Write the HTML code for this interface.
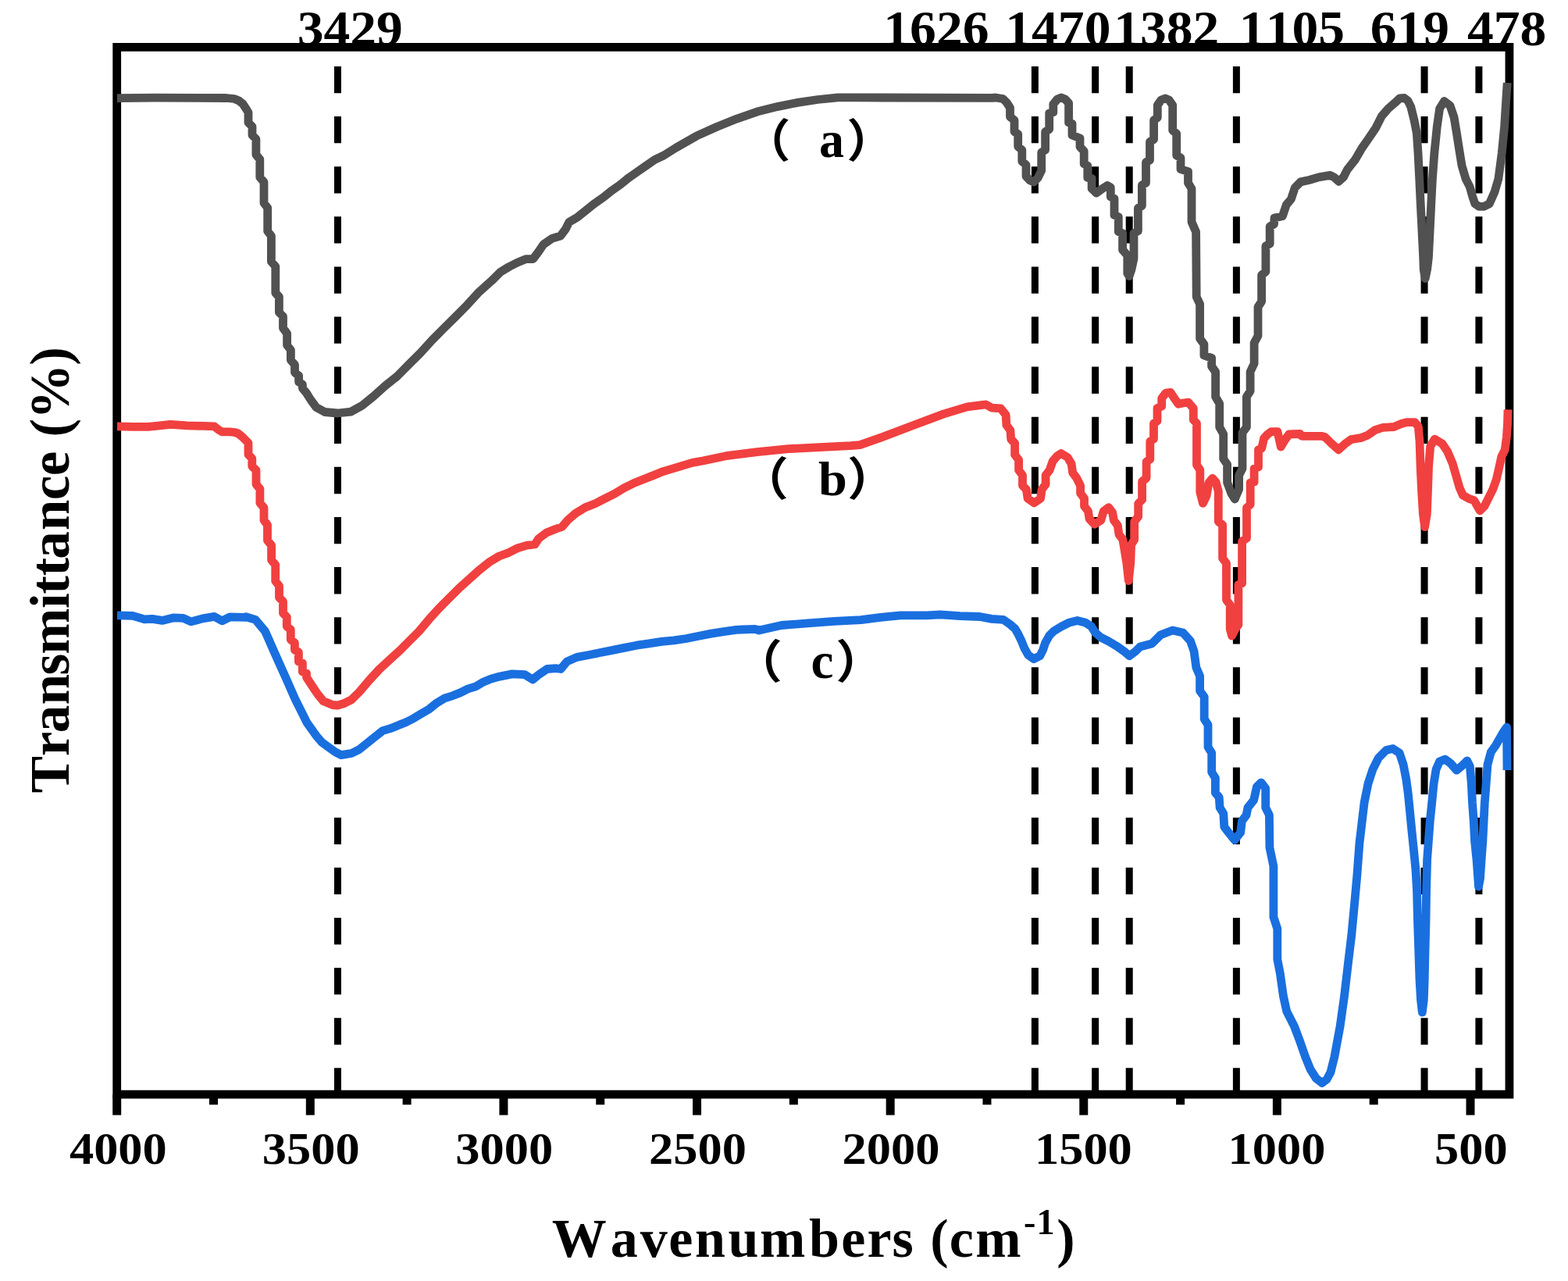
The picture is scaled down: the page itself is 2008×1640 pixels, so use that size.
<!DOCTYPE html>
<html><head><meta charset="utf-8"><title>FTIR spectra</title>
<style>html,body{margin:0;padding:0;background:#fff;width:2008px;height:1640px;overflow:hidden}svg{display:block}</style>
</head><body>
<svg xmlns="http://www.w3.org/2000/svg" width="2008" height="1640" viewBox="0 0 2008 1640">
<rect x="0" y="0" width="2008" height="1640" fill="#fff"/>
<text font-family="'Liberation Serif','Times New Roman',serif" font-weight="bold" font-size="64" style="font-kerning:none" transform="translate(380.65,58.40) scale(1.0560,1)">3429</text>
<text font-family="'Liberation Serif','Times New Roman',serif" font-weight="bold" font-size="64" style="font-kerning:none" transform="translate(1131.33,58.40) scale(1.0560,1)">1626</text>
<text font-family="'Liberation Serif','Times New Roman',serif" font-weight="bold" font-size="64" style="font-kerning:none" transform="translate(1287.31,58.40) scale(1.0560,1)">1470</text>
<text font-family="'Liberation Serif','Times New Roman',serif" font-weight="bold" font-size="64" style="font-kerning:none" transform="translate(1426.23,58.40) scale(1.0560,1)">1382</text>
<text font-family="'Liberation Serif','Times New Roman',serif" font-weight="bold" font-size="64" style="font-kerning:none" transform="translate(1586.85,58.40) scale(1.0560,1)">1105</text>
<text font-family="'Liberation Serif','Times New Roman',serif" font-weight="bold" font-size="64" style="font-kerning:none" transform="translate(1754.71,58.40) scale(1.0560,1)">619</text>
<text font-family="'Liberation Serif','Times New Roman',serif" font-weight="bold" font-size="64" style="font-kerning:none" transform="translate(1879.04,58.40) scale(1.0560,1)">478</text>
<rect x="149.7" y="60.4" width="1783.25" height="1340.70" fill="none" stroke="#000" stroke-width="10.8"/>
<line x1="432.48" y1="84.9" x2="432.48" y2="1398" stroke="#000" stroke-width="9" stroke-dasharray="34.3 29.82"/>
<line x1="1325.38" y1="84.9" x2="1325.38" y2="1398" stroke="#000" stroke-width="9" stroke-dasharray="34.3 29.82"/>
<line x1="1402.63" y1="84.9" x2="1402.63" y2="1398" stroke="#000" stroke-width="9" stroke-dasharray="34.3 29.82"/>
<line x1="1446.21" y1="84.9" x2="1446.21" y2="1398" stroke="#000" stroke-width="9" stroke-dasharray="34.3 29.82"/>
<line x1="1583.39" y1="84.9" x2="1583.39" y2="1398" stroke="#000" stroke-width="9" stroke-dasharray="34.3 29.82"/>
<line x1="1824.07" y1="84.9" x2="1824.07" y2="1398" stroke="#000" stroke-width="9" stroke-dasharray="34.3 29.82"/>
<line x1="1893.90" y1="84.9" x2="1893.90" y2="1398" stroke="#000" stroke-width="9" stroke-dasharray="34.3 29.82"/>
<polyline points="150.00,125.60 200.00,125.20 290.00,125.50 300.00,126.50 306.00,129.00 311.00,133.00 315.00,139.00 318.00,144.00 318.00,157.00 323.00,162.00 323.00,173.00 327.90,178.00 327.90,198.00 332.80,204.00 332.80,227.00 338.00,233.00 338.00,260.00 342.70,266.00 342.70,296.00 347.40,302.00 347.40,335.00 352.80,341.00 352.80,375.00 357.40,380.00 357.40,400.00 362.50,405.00 362.50,420.00 367.60,427.00 367.60,442.00 372.40,448.00 372.40,461.00 377.50,467.00 377.50,477.00 382.60,481.00 382.60,489.00 387.40,492.00 387.40,497.00 392.60,503.40 398.00,512.00 405.00,521.50 416.00,527.50 432.00,529.00 449.60,527.10 463.20,519.60 478.20,507.50 493.20,494.00 508.30,482.00 523.30,466.90 538.40,451.90 553.40,435.40 568.40,420.30 583.50,405.30 598.50,390.20 613.60,373.70 628.60,360.20 630.00,359.10 641.00,348.10 652.00,341.50 662.90,336.00 673.90,331.60 682.70,331.60 689.30,322.80 695.90,313.00 706.80,305.30 717.80,302.00 724.40,293.20 728.80,284.40 739.80,277.80 750.80,269.00 761.70,260.30 772.70,252.60 783.70,243.80 794.70,236.10 805.60,227.30 816.60,219.60 827.60,212.00 838.60,204.30 850.00,199.00 865.90,189.00 891.80,174.20 917.70,162.50 943.60,152.10 969.50,143.10 995.40,136.60 1021.30,131.40 1047.20,127.50 1073.10,124.90 1100.00,124.90 1132.00,125.00 1270.00,125.37 1275.00,125.00 1284.40,126.50 1289.00,131.00 1293.50,138.00 1293.50,149.50 1299.00,154.00 1299.00,168.60 1303.70,171.50 1303.70,187.60 1308.80,192.00 1308.80,206.60 1314.00,211.00 1314.00,225.70 1319.00,231.00 1323.90,233.00 1329.00,228.00 1333.70,218.30 1333.70,195.00 1338.60,192.00 1338.60,168.60 1343.70,165.60 1343.70,145.00 1348.80,143.70 1348.80,133.40 1354.00,127.00 1359.00,125.00 1364.00,127.00 1368.60,132.00 1368.60,156.90 1373.00,158.30 1373.00,173.00 1378.00,175.00 1383.00,177.00 1383.00,188.00 1388.20,193.40 1388.20,209.80 1392.80,212.20 1392.80,227.40 1398.10,228.50 1398.10,241.40 1404.00,247.00 1411.00,242.00 1418.00,237.50 1422.30,240.00 1422.30,252.00 1427.00,254.30 1427.00,275.40 1432.30,277.70 1432.30,296.50 1437.60,298.80 1437.60,319.90 1443.80,327.00 1443.80,350.00 1446.10,353.50 1449.00,345.00 1452.00,330.80 1452.00,298.60 1457.40,295.70 1457.40,266.40 1462.40,263.50 1462.40,237.00 1467.50,234.20 1467.50,207.80 1472.50,205.00 1472.50,181.50 1477.60,178.60 1477.60,153.70 1482.30,150.70 1482.30,134.60 1487.00,128.00 1492.20,126.00 1497.00,128.00 1501.70,134.60 1501.70,166.90 1506.70,171.20 1506.70,199.10 1512.00,202.00 1512.00,216.60 1521.50,219.60 1521.50,234.20 1526.00,241.50 1526.00,284.00 1531.60,297.00 1532.20,380.00 1536.60,389.40 1536.60,433.60 1541.90,440.70 1541.90,454.90 1551.60,458.40 1551.60,469.00 1556.60,476.00 1556.60,508.00 1561.70,516.70 1561.70,546.80 1566.70,555.60 1566.70,587.50 1571.60,594.50 1571.60,617.50 1577.00,632.00 1581.30,639.00 1586.60,626.40 1586.60,608.70 1591.00,599.80 1591.00,553.90 1596.40,546.80 1596.40,507.90 1601.10,500.80 1601.10,476.00 1606.10,465.50 1606.10,439.00 1611.00,430.00 1611.00,393.00 1615.60,386.00 1615.60,352.00 1620.90,348.00 1620.90,315.00 1626.20,312.00 1626.20,290.00 1631.50,287.00 1632.00,279.00 1642.40,276.80 1647.30,262.20 1653.40,254.90 1658.30,240.20 1665.60,232.90 1676.60,230.50 1688.80,226.80 1703.40,224.40 1708.30,226.80 1714.40,232.30 1720.50,226.80 1725.40,217.10 1735.10,204.90 1743.70,190.20 1752.20,178.00 1762.00,163.40 1769.30,148.80 1777.80,139.00 1786.30,131.70 1792.40,126.00 1798.40,125.50 1803.00,129.00 1806.80,136.90 1811.00,153.70 1814.30,170.40 1816.00,195.60 1817.70,229.10 1819.30,262.60 1821.00,296.10 1822.70,329.60 1823.20,345.00 1825.20,356.50 1827.60,345.00 1829.40,329.60 1831.10,296.10 1832.70,262.60 1834.40,229.10 1836.90,195.60 1840.30,162.00 1843.60,139.00 1849.50,129.50 1857.00,135.20 1862.10,150.30 1865.40,170.40 1868.80,192.20 1872.10,212.30 1877.10,229.10 1882.20,239.10 1885.50,250.90 1888.90,260.90 1893.90,264.30 1900.60,264.30 1907.30,260.90 1914.00,245.80 1918.90,229.10 1923.30,195.60 1926.60,162.00 1928.70,128.50 1930.20,106.00" fill="none" stroke="#515151" stroke-width="10.8" stroke-linejoin="round" stroke-linecap="butt"/>
<polyline points="150.00,545.90 170.00,546.40 190.00,546.40 205.00,544.90 218.00,543.40 240.00,544.90 260.00,545.40 274.50,545.90 279.40,549.90 284.40,552.90 294.40,552.90 300.40,553.50 305.00,555.00 310.00,559.00 314.00,563.00 318.00,567.00 318.00,582.00 322.80,587.00 322.80,597.00 328.00,602.00 328.00,620.00 332.90,626.00 332.90,644.00 338.00,650.00 338.00,666.00 342.50,672.00 342.50,692.00 347.60,698.00 347.60,717.00 352.70,723.00 352.70,744.00 357.50,750.00 357.50,765.00 362.50,770.00 362.50,785.00 367.30,790.00 367.30,802.00 372.30,806.00 372.30,819.00 377.40,823.00 377.40,832.00 382.40,835.00 382.40,847.00 387.40,849.00 387.40,860.00 392.50,862.00 392.50,867.00 397.00,874.00 401.60,881.00 407.00,889.00 414.00,897.50 426.00,902.50 432.50,903.00 440.00,900.80 450.00,895.80 460.00,886.00 472.80,871.00 485.60,857.00 498.40,845.20 511.20,833.60 524.00,820.80 536.80,808.00 549.60,792.70 562.40,778.60 575.20,765.80 588.00,753.00 600.80,741.50 613.60,729.90 626.50,719.70 639.30,712.00 650.00,708.20 662.50,701.90 674.90,698.20 684.90,697.00 689.80,689.50 699.80,682.00 712.30,677.00 719.70,674.50 727.20,665.80 737.20,657.10 749.60,649.60 762.10,644.70 774.50,638.40 787.00,632.20 799.40,624.70 811.90,618.50 824.30,613.50 836.80,608.60 849.20,603.60 861.70,599.80 874.10,596.10 886.60,592.40 900.00,590.00 929.80,583.70 969.70,578.70 1009.50,574.70 1049.40,572.70 1089.20,570.70 1101.20,569.70 1129.00,559.80 1168.90,544.80 1208.70,529.90 1238.60,520.90 1262.50,517.90 1270.00,522.10 1281.50,522.90 1288.10,531.20 1288.90,544.30 1293.90,550.90 1294.70,562.40 1299.60,567.40 1299.60,582.20 1304.60,588.80 1304.60,601.90 1309.50,608.50 1309.50,621.70 1314.40,626.60 1316.10,638.10 1324.30,643.90 1332.60,638.10 1334.20,626.60 1339.10,620.00 1339.10,608.50 1344.10,601.90 1348.20,590.40 1353.90,583.80 1358.90,580.50 1367.10,585.50 1372.10,593.70 1373.70,605.20 1378.60,611.80 1383.60,621.70 1383.60,631.60 1388.50,638.10 1388.50,648.00 1393.50,654.60 1395.10,664.50 1401.70,671.10 1409.90,666.10 1413.20,654.60 1419.80,649.70 1424.70,656.30 1426.40,666.10 1431.30,672.70 1433.00,684.20 1437.90,690.80 1439.50,700.70 1442.80,720.50 1445.30,743.50 1447.80,720.50 1448.60,697.40 1452.70,690.80 1452.70,667.80 1457.70,661.20 1457.70,644.70 1462.60,639.80 1462.60,616.50 1468.10,612.00 1468.10,591.00 1472.80,588.00 1472.80,565.00 1477.50,562.00 1477.50,542.00 1482.00,539.00 1482.00,522.70 1487.70,520.00 1487.70,510.00 1493.00,503.00 1499.00,502.40 1504.00,510.00 1509.00,517.30 1515.00,516.00 1521.90,515.20 1528.30,522.70 1528.30,537.60 1532.50,541.90 1532.50,595.20 1536.80,601.60 1536.80,630.00 1540.50,644.30 1545.00,635.00 1548.00,618.00 1552.80,612.30 1557.00,617.00 1560.30,629.00 1560.30,667.70 1565.60,672.00 1565.60,714.70 1570.50,721.00 1570.50,768.00 1575.20,774.40 1575.20,805.00 1577.50,814.00 1582.00,805.00 1585.90,800.00 1585.90,748.80 1590.60,746.70 1590.60,693.00 1596.50,689.00 1596.50,650.00 1601.20,646.00 1601.20,618.00 1606.10,617.00 1606.10,600.00 1611.50,598.00 1611.50,576.00 1615.70,574.00 1618.70,561.00 1623.40,556.00 1628.00,552.60 1636.00,552.60 1640.30,572.00 1645.00,564.00 1650.70,556.00 1664.90,555.50 1667.00,558.30 1692.30,558.30 1697.00,559.70 1704.60,567.30 1714.10,575.80 1723.60,567.30 1730.20,562.60 1742.50,560.70 1751.90,556.90 1761.40,550.30 1770.90,547.40 1785.10,546.50 1794.50,542.50 1801.00,540.70 1811.90,540.70 1816.30,546.20 1818.00,564.90 1819.10,597.80 1820.70,630.70 1822.40,658.10 1824.60,674.60 1827.30,658.10 1828.40,630.70 1829.50,597.80 1831.70,571.50 1837.20,562.20 1847.10,568.20 1853.60,578.00 1860.20,593.40 1864.60,608.80 1869.00,624.10 1873.40,634.00 1881.10,638.40 1887.70,640.60 1892.10,648.30 1895.30,653.80 1900.80,648.30 1906.30,637.30 1911.80,626.30 1916.20,614.20 1919.50,600.00 1922.80,584.60 1927.20,575.80 1929.40,559.40 1930.50,542.90 1931.00,524.30" fill="none" stroke="#F14040" stroke-width="10.8" stroke-linejoin="round" stroke-linecap="butt"/>
<polyline points="150.00,787.90 170.00,788.40 185.00,792.90 195.00,792.40 207.70,794.40 221.70,790.90 234.60,791.40 244.60,795.90 259.50,791.90 274.50,789.40 284.40,794.90 294.40,789.90 314.30,790.40 315.00,789.80 327.20,793.40 333.30,800.70 339.40,808.00 344.30,819.00 349.10,830.00 354.00,841.00 358.90,852.00 363.80,862.90 368.70,873.90 373.50,884.90 378.40,895.90 383.30,905.60 388.20,915.40 393.00,925.10 399.10,933.70 405.20,942.20 412.60,950.70 421.10,956.80 429.60,962.90 437.00,966.60 444.30,965.40 450.00,964.50 459.90,959.60 469.90,951.60 479.80,943.60 489.80,935.70 499.80,932.70 509.70,928.70 519.70,924.70 529.60,919.70 539.60,913.70 549.60,907.80 559.50,899.80 569.50,893.80 579.40,890.80 589.40,886.90 599.40,881.90 609.30,878.90 619.30,872.90 629.20,868.90 640.00,866.10 655.90,862.90 671.90,863.70 682.20,870.00 691.00,862.90 700.60,856.50 711.70,855.70 718.10,856.50 726.10,846.90 738.80,841.40 751.60,839.00 767.50,835.80 783.40,832.60 799.40,829.40 815.30,826.20 831.20,823.80 847.20,821.40 863.10,819.80 879.00,817.50 895.00,814.30 910.90,811.10 926.90,808.70 942.80,806.30 950.00,806.00 966.90,805.40 972.00,807.00 1000.80,800.50 1034.70,797.90 1068.50,795.40 1102.40,793.70 1127.80,790.30 1153.20,787.80 1187.00,787.80 1204.00,786.90 1229.40,788.60 1254.80,789.50 1270.00,792.40 1284.90,793.40 1292.90,798.90 1299.90,804.90 1303.90,811.80 1307.80,819.80 1311.80,829.80 1316.80,838.70 1323.80,843.70 1331.80,839.70 1335.70,831.80 1338.70,822.80 1343.70,813.80 1349.70,807.80 1359.60,801.90 1369.60,796.90 1379.60,794.40 1389.50,796.90 1397.50,801.90 1402.50,809.80 1409.40,815.80 1419.40,820.80 1429.40,826.80 1439.30,833.70 1446.30,839.70 1454.30,833.70 1460.00,828.00 1475.10,824.00 1486.50,812.70 1501.60,807.00 1514.80,809.90 1524.30,820.30 1529.00,833.50 1531.80,854.30 1536.60,865.60 1536.60,884.50 1542.20,892.10 1542.20,920.50 1547.00,928.00 1547.00,956.40 1551.70,963.90 1551.70,988.50 1556.40,996.10 1556.40,1015.00 1561.20,1020.70 1562.10,1033.90 1566.80,1041.50 1567.80,1058.50 1573.40,1066.00 1581.00,1075.50 1588.60,1066.00 1590.50,1050.90 1596.10,1043.40 1598.00,1033.90 1605.60,1024.40 1609.40,1007.40 1615.00,1001.80 1620.70,1009.30 1620.70,1033.90 1625.40,1043.40 1625.90,1085.00 1630.90,1109.00 1630.90,1174.00 1635.80,1189.00 1635.80,1228.00 1639.30,1246.00 1643.40,1275.00 1647.70,1294.60 1657.50,1314.00 1664.90,1333.70 1671.70,1353.20 1678.00,1368.80 1685.40,1380.50 1693.00,1386.50 1699.00,1382.00 1704.00,1372.70 1708.90,1353.00 1716.10,1314.00 1721.60,1275.00 1726.10,1236.00 1730.80,1197.00 1734.50,1158.00 1738.00,1119.00 1740.90,1080.00 1744.20,1052.00 1747.10,1027.60 1752.00,1003.20 1758.00,984.90 1765.40,970.20 1775.10,960.50 1783.70,958.50 1792.20,964.10 1797.10,978.80 1800.70,997.10 1803.20,1015.40 1805.60,1039.80 1808.00,1064.10 1810.50,1088.50 1812.90,1112.90 1814.50,1140.00 1815.50,1180.00 1816.80,1218.00 1818.00,1255.00 1819.50,1280.00 1821.30,1296.00 1823.30,1280.00 1824.20,1255.00 1825.00,1218.00 1826.00,1180.00 1826.60,1140.00 1827.60,1100.70 1829.40,1076.30 1831.20,1052.00 1833.70,1027.60 1836.10,1003.20 1839.10,984.90 1843.40,975.10 1850.70,972.10 1858.00,977.60 1865.40,986.10 1872.70,980.00 1878.80,973.90 1882.40,981.20 1884.30,1003.20 1885.50,1027.60 1887.30,1052.00 1888.50,1076.30 1891.00,1100.70 1892.80,1125.10 1893.50,1135.00 1895.50,1125.00 1897.10,1100.70 1898.90,1076.30 1900.10,1052.00 1901.30,1027.60 1903.20,1003.20 1905.00,978.80 1909.30,962.90 1915.40,954.40 1920.20,945.90 1925.10,937.30 1929.50,931.00 1930.00,986.00" fill="none" stroke="#1A6FDF" stroke-width="10.8" stroke-linejoin="round" stroke-linecap="butt"/>
<text font-family="'Noto Sans CJK SC','WenQuanYi Zen Hei',sans-serif" font-weight="bold" font-size="58.229" style="font-kerning:none" transform="translate(950.85,201.08) scale(1.0600,1)">（</text>
<text font-family="'Noto Sans CJK SC','WenQuanYi Zen Hei',sans-serif" font-weight="bold" font-size="58.229" style="font-kerning:none" transform="translate(1084.24,201.08) scale(1.0541,1)">）</text>
<text font-family="'Liberation Serif','Times New Roman',serif" font-weight="bold" font-size="65.474" style="font-kerning:none" transform="translate(1048.98,201.47) scale(0.9768,1)">a</text>
<text font-family="'Noto Sans CJK SC','WenQuanYi Zen Hei',sans-serif" font-weight="bold" font-size="58.438" style="font-kerning:none" transform="translate(947.49,634.16) scale(1.0680,1)">（</text>
<text font-family="'Noto Sans CJK SC','WenQuanYi Zen Hei',sans-serif" font-weight="bold" font-size="58.438" style="font-kerning:none" transform="translate(1085.11,634.16) scale(1.0621,1)">）</text>
<text font-family="'Liberation Serif','Times New Roman',serif" font-weight="bold" font-size="61.429" style="font-kerning:none" transform="translate(1047.91,634.29) scale(1.0777,1)">b</text>
<text font-family="'Noto Sans CJK SC','WenQuanYi Zen Hei',sans-serif" font-weight="bold" font-size="58.542" style="font-kerning:none" transform="translate(939.39,868.05) scale(1.0661,1)">（</text>
<text font-family="'Noto Sans CJK SC','WenQuanYi Zen Hei',sans-serif" font-weight="bold" font-size="58.542" style="font-kerning:none" transform="translate(1070.19,868.05) scale(1.0661,1)">）</text>
<text font-family="'Liberation Serif','Times New Roman',serif" font-weight="bold" font-size="64.583" style="font-kerning:none" transform="translate(1038.62,868.05) scale(1.0095,1)">c</text>
<line x1="149.70" y1="1401.10" x2="149.70" y2="1427.6" stroke="#000" stroke-width="11"/>
<line x1="273.51" y1="1401.10" x2="273.51" y2="1414.3" stroke="#000" stroke-width="11"/>
<line x1="397.31" y1="1401.10" x2="397.31" y2="1427.6" stroke="#000" stroke-width="11"/>
<line x1="521.12" y1="1401.10" x2="521.12" y2="1414.3" stroke="#000" stroke-width="11"/>
<line x1="644.93" y1="1401.10" x2="644.93" y2="1427.6" stroke="#000" stroke-width="11"/>
<line x1="768.74" y1="1401.10" x2="768.74" y2="1414.3" stroke="#000" stroke-width="11"/>
<line x1="892.55" y1="1401.10" x2="892.55" y2="1427.6" stroke="#000" stroke-width="11"/>
<line x1="1016.35" y1="1401.10" x2="1016.35" y2="1414.3" stroke="#000" stroke-width="11"/>
<line x1="1140.16" y1="1401.10" x2="1140.16" y2="1427.6" stroke="#000" stroke-width="11"/>
<line x1="1263.97" y1="1401.10" x2="1263.97" y2="1414.3" stroke="#000" stroke-width="11"/>
<line x1="1387.78" y1="1401.10" x2="1387.78" y2="1427.6" stroke="#000" stroke-width="11"/>
<line x1="1511.58" y1="1401.10" x2="1511.58" y2="1414.3" stroke="#000" stroke-width="11"/>
<line x1="1635.39" y1="1401.10" x2="1635.39" y2="1427.6" stroke="#000" stroke-width="11"/>
<line x1="1759.20" y1="1401.10" x2="1759.20" y2="1414.3" stroke="#000" stroke-width="11"/>
<line x1="1883.01" y1="1401.10" x2="1883.01" y2="1427.6" stroke="#000" stroke-width="11"/>
<text font-family="'Liberation Serif','Times New Roman',serif" font-weight="bold" font-size="58.1" style="font-kerning:none" transform="translate(88.92,1490.40) scale(1.0750,1)">4000</text>
<text font-family="'Liberation Serif','Times New Roman',serif" font-weight="bold" font-size="58.1" style="font-kerning:none" transform="translate(335.76,1490.40) scale(1.0750,1)">3500</text>
<text font-family="'Liberation Serif','Times New Roman',serif" font-weight="bold" font-size="58.1" style="font-kerning:none" transform="translate(583.37,1490.40) scale(1.0750,1)">3000</text>
<text font-family="'Liberation Serif','Times New Roman',serif" font-weight="bold" font-size="58.1" style="font-kerning:none" transform="translate(830.99,1490.40) scale(1.0750,1)">2500</text>
<text font-family="'Liberation Serif','Times New Roman',serif" font-weight="bold" font-size="58.1" style="font-kerning:none" transform="translate(1078.60,1490.40) scale(1.0750,1)">2000</text>
<text font-family="'Liberation Serif','Times New Roman',serif" font-weight="bold" font-size="58.1" style="font-kerning:none" transform="translate(1324.97,1490.40) scale(1.0750,1)">1500</text>
<text font-family="'Liberation Serif','Times New Roman',serif" font-weight="bold" font-size="58.1" style="font-kerning:none" transform="translate(1572.58,1490.40) scale(1.0750,1)">1000</text>
<text font-family="'Liberation Serif','Times New Roman',serif" font-weight="bold" font-size="58.1" style="font-kerning:none" transform="translate(1837.06,1490.40) scale(1.0750,1)">500</text>
<text font-family="'Liberation Serif','Times New Roman',serif" font-weight="bold" font-size="70.0" x="706.85 781.77 819.75 856.23 889.88 932.38 973.05 1036.10 1077.27 1110.38 1142.52 1172.52 1191.37 1215.73 1249.35" y="1608.5">Wavenumbers (cm</text>
<text font-family="'Liberation Serif','Times New Roman',serif" font-weight="bold" font-size="46.0" x="1311.06 1327.51" y="1579.5">-1</text>
<text font-family="'Liberation Serif','Times New Roman',serif" font-weight="bold" font-size="70.0" x="1353.15" y="1608.5">)</text>
<text font-family="'Liberation Serif','Times New Roman',serif" font-weight="bold" font-size="71.0" transform="translate(87.8,0) rotate(-90)" x="-1015.31 -968.25 -938.18 -902.56 -864.42 -837.72 -778.97 -760.65 -737.50 -715.73 -679.21 -640.35 -609.15 -579.15 -559.45 -536.71 -467.86" y="0">Transmittance (%)</text>
</svg>
</body></html>
